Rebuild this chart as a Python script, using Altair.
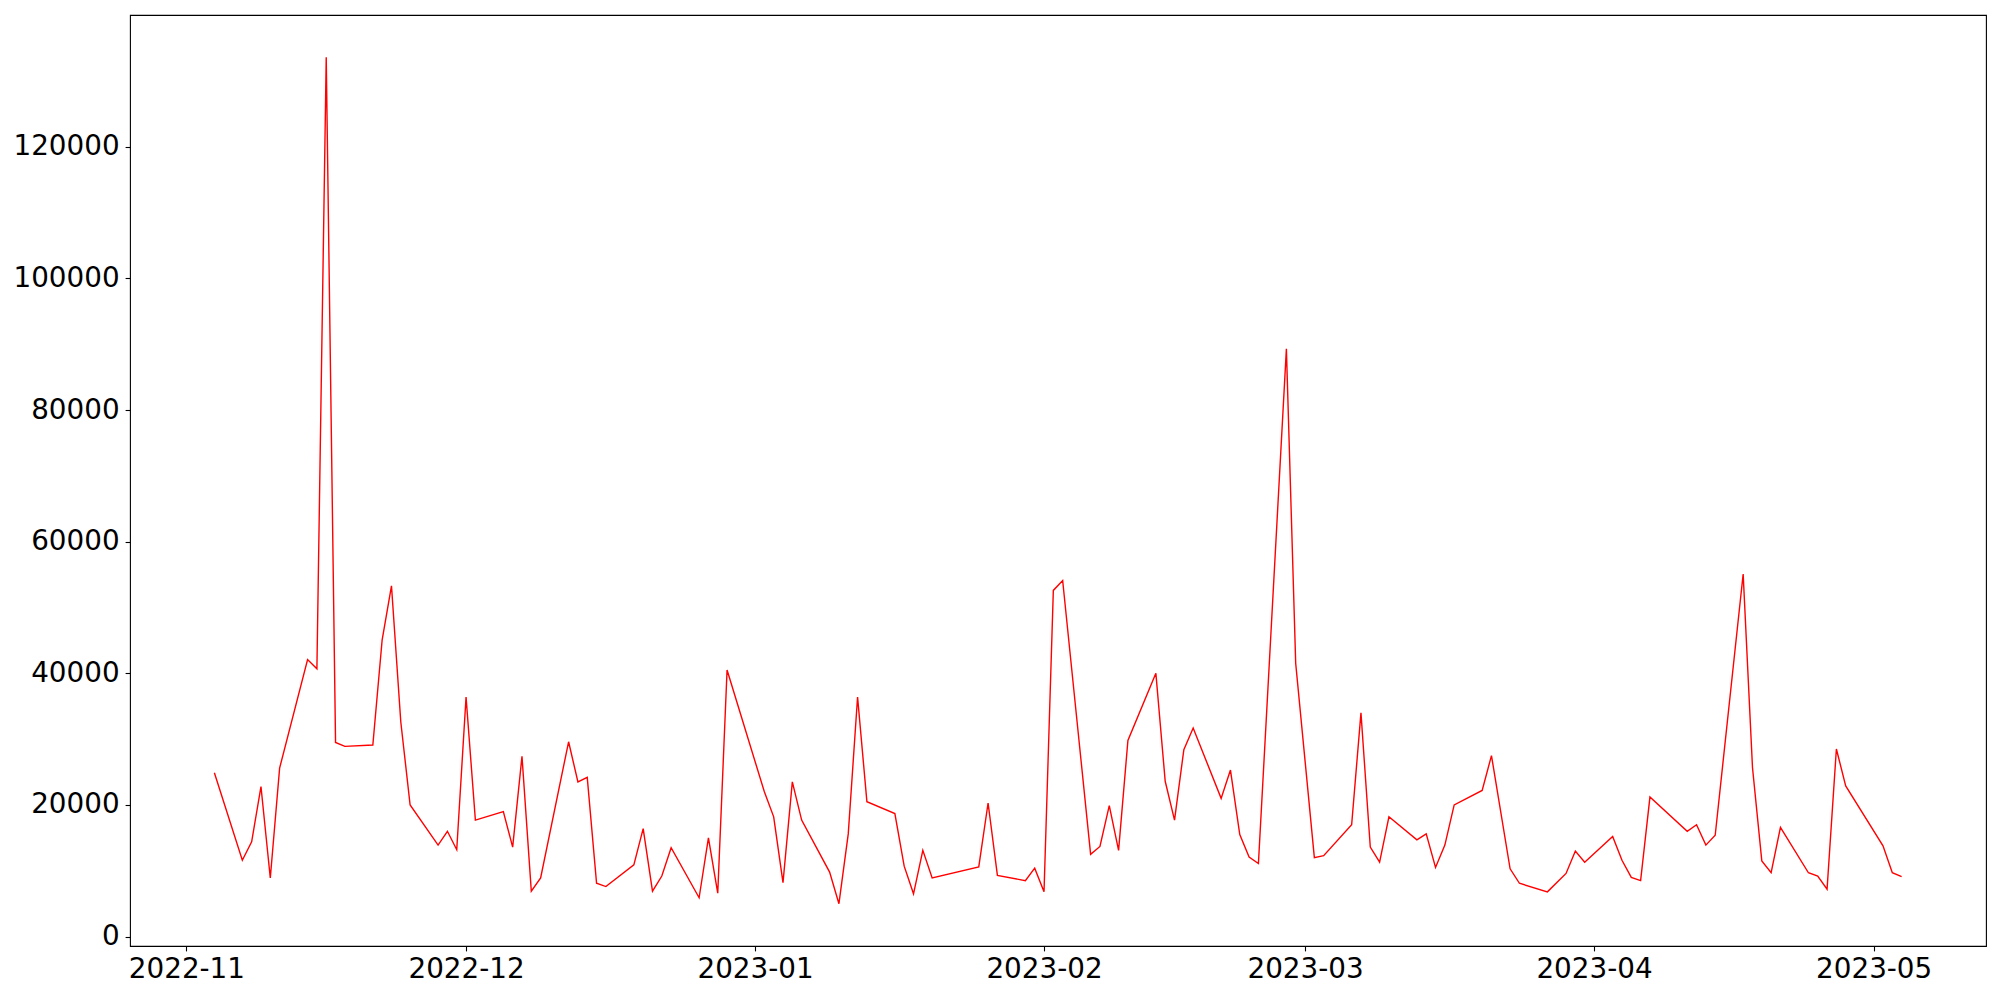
import altair as alt
import pandas as pd

dates = [
    "2022-11-04", "2022-11-07", "2022-11-08", "2022-11-09", "2022-11-10", "2022-11-11",
    "2022-11-14", "2022-11-15", "2022-11-16", "2022-11-17", "2022-11-18",
    "2022-11-21", "2022-11-22", "2022-11-23", "2022-11-24", "2022-11-25",
    "2022-11-28", "2022-11-29", "2022-11-30", "2022-12-01", "2022-12-02",
    "2022-12-05", "2022-12-06", "2022-12-07", "2022-12-08", "2022-12-09",
    "2022-12-12", "2022-12-13", "2022-12-14", "2022-12-15", "2022-12-16",
    "2022-12-19", "2022-12-20", "2022-12-21", "2022-12-22", "2022-12-23",
    "2022-12-26", "2022-12-27", "2022-12-28", "2022-12-29",
    "2023-01-02", "2023-01-03", "2023-01-04", "2023-01-05", "2023-01-06",
    "2023-01-09", "2023-01-10", "2023-01-11", "2023-01-12", "2023-01-13",
    "2023-01-16", "2023-01-17", "2023-01-18", "2023-01-19", "2023-01-20",
    "2023-01-25", "2023-01-26", "2023-01-27",
    "2023-01-30", "2023-01-31", "2023-02-01", "2023-02-02", "2023-02-03",
    "2023-02-06", "2023-02-07", "2023-02-08", "2023-02-09", "2023-02-10",
    "2023-02-13", "2023-02-14", "2023-02-15", "2023-02-16", "2023-02-17",
    "2023-02-20", "2023-02-21", "2023-02-22", "2023-02-23", "2023-02-24",
    "2023-02-27", "2023-02-28", "2023-03-02", "2023-03-03",
    "2023-03-06", "2023-03-07", "2023-03-08", "2023-03-09", "2023-03-10",
    "2023-03-13", "2023-03-14", "2023-03-15", "2023-03-16", "2023-03-17",
    "2023-03-20", "2023-03-21", "2023-03-23", "2023-03-24",
    "2023-03-27", "2023-03-29", "2023-03-30", "2023-03-31",
    "2023-04-03", "2023-04-04", "2023-04-05", "2023-04-06", "2023-04-07",
    "2023-04-11", "2023-04-12", "2023-04-13", "2023-04-14",
    "2023-04-17", "2023-04-18", "2023-04-19", "2023-04-20", "2023-04-21",
    "2023-04-24", "2023-04-25", "2023-04-26", "2023-04-27", "2023-04-28",
    "2023-05-02", "2023-05-03", "2023-05-04",
]

values = [
    24900, 11600, 14400, 22800, 8900, 25600,
    42100, 40700, 133600, 29500, 28900,
    29100, 45100, 53300, 32600, 20000,
    13900, 16000, 13200, 36400, 17700,
    19000, 13600, 27400, 6900, 8900,
    29600, 23500, 24200, 8100, 7600,
    10900, 16400, 6900, 9200, 13500,
    5900, 15000, 6600, 40500,
    22000, 18200, 8200, 23500, 17700,
    9800, 5000, 15600, 36400, 20500,
    18700, 10700, 6500, 13100, 8900,
    10600, 20300, 9300,
    8500, 10400, 6800, 52600, 54100,
    12500, 13700, 19900, 13100, 29800,
    40000, 23600, 17700, 28400, 31700,
    21000, 25300, 15500, 12100, 11100,
    89300, 41500, 12000, 12300,
    17000, 34000, 13600, 11300, 18200,
    14700, 15600, 10500, 13900, 20000,
    22200, 27500, 10300, 8100,
    6800, 9600, 13000, 11300,
    15200, 11600, 9000, 8500, 21200,
    16000, 17000, 13900, 15400,
    55100, 25700, 11500, 9700, 16600,
    9700, 9200, 7200, 28500, 22900,
    13800, 9700, 9100,
]

month_ticks = ["2022-11-01", "2022-12-01", "2023-01-01", "2023-02-01",
               "2023-03-01", "2023-04-01", "2023-05-01"]
y_ticks = [0, 20000, 40000, 60000, 80000, 100000, 120000]

df = pd.DataFrame({"date": dates, "value": values})


def ms(s):
    return int(pd.Timestamp(s, tz="UTC").timestamp() * 1000)


t = [ms(d) for d in dates]
tr = max(t) - min(t)
x_domain = [min(t) - 0.05 * tr, max(t) + 0.05 * tr]
vr = max(values) - min(values)
y_domain = [min(values) - 0.05 * vr, max(values) + 0.05 * vr]

font = "DejaVu Sans"

chart = alt.Chart(df).mark_line(color="#ff0000", strokeWidth=1.4).encode(
    x=alt.X(
        "date:T",
        scale=alt.Scale(type="utc", domain=x_domain, nice=False),
        axis=alt.Axis(
            values=[ms(m) for m in month_ticks],
            labelExpr="utcFormat(datum.value, '%Y-%m')",
            title=None,
            labelFlush=False,
            labelOverlap=False,
            labelPadding=5,
            grid=False,
        ),
    ),
    y=alt.Y(
        "value:Q",
        scale=alt.Scale(domain=y_domain, nice=False, zero=False),
        axis=alt.Axis(
            values=y_ticks,
            format="d",
            title=None,
            labelPadding=6,
            grid=False,
        ),
    ),
).properties(
    width=1856,
    height=931,
    autosize=alt.AutoSizeParams(type="none"),
    padding={"left": 122, "top": 7, "right": 6, "bottom": 46},
    background="white",
).configure_view(
    stroke="black",
    strokeWidth=1.1,
).configure_axis(
    domain=False,
    grid=False,
    ticks=True,
    tickColor="black",
    tickSize=4.9,
    tickWidth=1.1,
    labelFont=font,
    labelFontSize=27.8,
    labelColor="black",
)

chart.save("out.html", embed_options={"renderer": "svg", "actions": False})
